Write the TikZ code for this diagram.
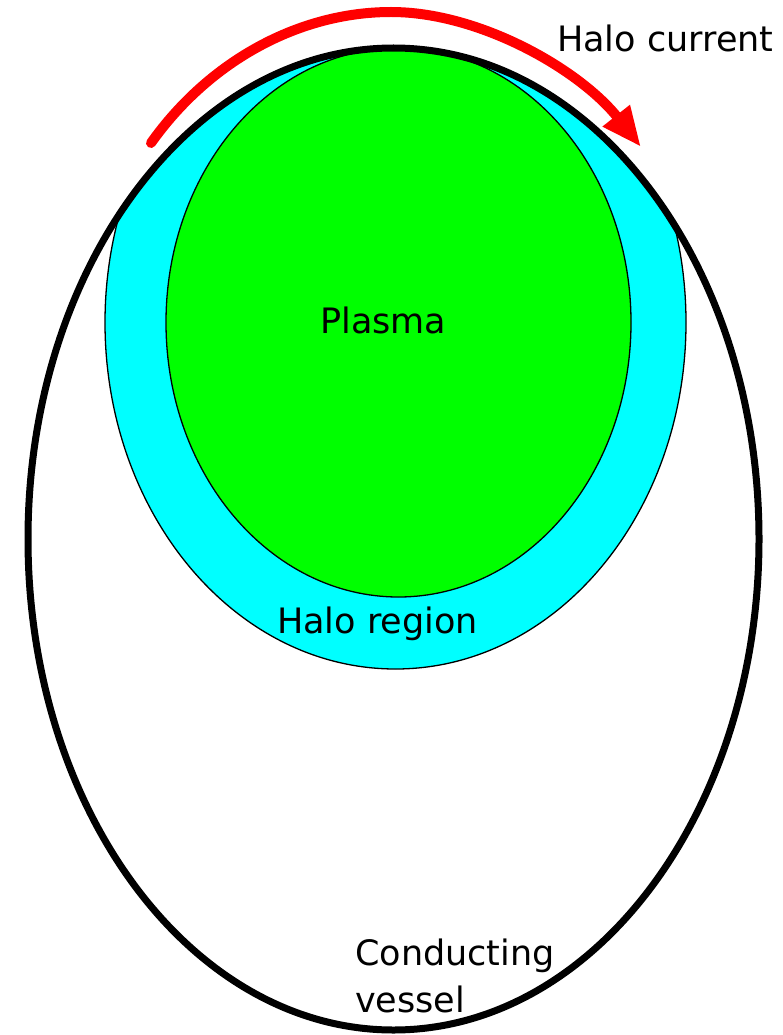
\documentclass[tikz,border=0pt]{standalone}
\usepackage{fontspec}
\setmainfont{DejaVu Sans}
\usetikzlibrary{arrows.meta}
\definecolor{cian}{RGB}{0,255,255}
\definecolor{verde}{RGB}{0,255,0}
\definecolor{rosu}{RGB}{255,0,0}
\tikzset{
  vas/.style      = {draw, line width=7pt},
  halou/.style    = {draw, fill=cian, line width=1.3pt},
  zonaplasma/.style = {draw, fill=verde, line width=1.3pt},
  eticheta/.style = {font=\fontsize{35}{47}\selectfont, inner sep=0pt,
                     anchor=base west, align=left},
  sageata/.style  = {rosu, line width=10pt, line cap=round,
                     -{Triangle[length=40pt,width=32pt]}}
}
\begin{document}
\begin{tikzpicture}[x=1pt,y=-1pt]
    \useasboundingbox (0,0) rectangle (782,1035);
    \coordinate (centruvas) at (393.5,539);
    \coordinate (centruhalou) at (395.5,322.5);
    \coordinate (centruplasma) at (398.5,322.5);

    \begin{scope}
        \clip (centruvas) ellipse [x radius=365.5, y radius=491];
        \draw[halou] (centruhalou) ellipse [x radius=290.5, y radius=346.5];
    \end{scope}
    \draw[zonaplasma] (centruplasma) ellipse [x radius=232.5, y radius=274.5];
    \draw[vas] (centruvas) ellipse [x radius=365.5, y radius=491];

    \node[eticheta] (plasma) at (320,333) {Plasma};
    \node[eticheta] (regiune) at (277,633) {Halo region};
    \node[eticheta] (vasconductor) at (355,1012) {Conducting\\vessel};
    \node[eticheta] (curent) at (557,52) {Halo current};

    \coordinate (inceput) at (151,143);
    \coordinate (varf) at (391,12);
    \coordinate (capat) at (641,147);
    \draw[sageata] (inceput) .. controls (210,60) and (300,12) .. (varf)
        .. controls (480,12) and (580,70) .. (capat);
\end{tikzpicture}
\end{document}
